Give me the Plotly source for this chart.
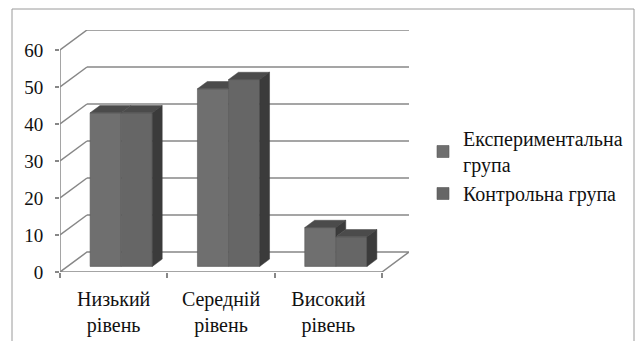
import plotly.graph_objects as go

# Survey results (% of pupils) by level, for the two groups
categories = ["Низький<br>рівень", "Середній<br>рівень", "Високий<br>рівень"]
series_names = ["Експериментальна<br>група", "Контрольна група"]
experimental = [41.5, 48, 10.5]
control = [41.5, 50.5, 8]
y_ticks = [0, 10, 20, 30, 40, 50, 60]

# Figure geometry (pixels)
W, H = 635, 341
ML, MR, MT, MB = 60, 226, 30, 69
plot_w = W - ML - MR
plot_h = H - MT - MB

# Pseudo-3D depth of the chart box, in axis units
DEPTH_X = 0.2516
DEPTH_Y = 5.4
BAR_FRONT = 0.28      # where the bars start inside the depth
BAR_DEPTH = 0.365     # how deep each bar is (fraction of box depth)
BAR_W = 0.29          # width of one bar in category units

x_min, x_max = -0.5, len(categories) - 0.5
y_top = max(y_ticks)

GRID = "#878787"
FONT = "Liberation Serif, Times New Roman, serif"
FRONT_COLORS = ["#6f6f6f", "#666666"]
TOP_COLOR = "#4b4b4b"
SIDE_COLOR = "#3b3b3b"

fig = go.Figure()

base = BAR_FRONT * DEPTH_Y
shift_x = BAR_FRONT * DEPTH_X
bx = BAR_DEPTH * DEPTH_X
by = BAR_DEPTH * DEPTH_Y
xpos = [i + shift_x for i in range(len(categories))]

# Front faces of the columns
for k, vals in enumerate([experimental, control]):
    fig.add_trace(go.Bar(
        x=xpos, y=vals, base=base, width=BAR_W,
        offset=-BAR_W if k == 0 else 0,
        name=series_names[k], legendgroup=f"g{k}",
        marker=dict(color=FRONT_COLORS[k], line=dict(width=0.6, color="#575757")),
        hoverinfo="skip",
    ))


def face(pts, color):
    xs = [p[0] for p in pts] + [pts[0][0]]
    ys = [p[1] for p in pts] + [pts[0][1]]
    fig.add_trace(go.Scatter(
        x=xs, y=ys, mode="lines", fill="toself", fillcolor=color,
        line=dict(width=0.5, color=color), hoverinfo="skip", showlegend=False,
    ))


# Top and side faces, drawn back (left series) to front (right series)
for i, cx in enumerate(xpos):
    v1, v2 = experimental[i], control[i]
    x0, x1 = cx - BAR_W, cx
    t1, t2 = base + v1, base + v2
    if v1 >= v2:
        face([(x0, t1), (x1, t1), (x1 + bx, t1 + by), (x0 + bx, t1 + by)], TOP_COLOR)
        if v1 > v2:
            face([(x1, t2), (x1 + bx, t2 + by), (x1 + bx, t1 + by), (x1, t1)], SIDE_COLOR)
    else:
        face([(x0, t1), (x1, t1), (x1, t1 + by), (x0 + bx, t1 + by)], TOP_COLOR)
for i, cx in enumerate(xpos):
    v2 = control[i]
    x1, x2 = cx, cx + BAR_W
    t2 = base + v2
    face([(x1, t2), (x2, t2), (x2 + bx, t2 + by), (x1 + bx, t2 + by)], TOP_COLOR)
    face([(x2, base), (x2 + bx, base + by), (x2 + bx, t2 + by), (x2, t2)], SIDE_COLOR)

shapes = []
line = dict(color=GRID, width=1.5)
# Floor
shapes.append(dict(
    type="path", xref="x", yref="y", layer="below", line=line,
    path=f"M{x_min},0 L{x_max},0 L{x_max + DEPTH_X},{DEPTH_Y} L{x_min + DEPTH_X},{DEPTH_Y} Z",
))
# Wall gridlines: diagonal on the side wall, horizontal on the back wall
for v in y_ticks[1:]:
    shapes.append(dict(type="line", xref="x", yref="y", layer="below", line=line,
                       x0=x_min, y0=v, x1=x_min + DEPTH_X, y1=v + DEPTH_Y))
    shapes.append(dict(type="line", xref="x", yref="y", layer="below", line=line,
                       x0=x_min + DEPTH_X, y0=v + DEPTH_Y, x1=x_max + DEPTH_X, y1=v + DEPTH_Y))
# Front value axis line
shapes.append(dict(type="line", xref="x", yref="y", layer="below", line=line,
                   x0=x_min, y0=0, x1=x_min, y1=y_top))


def px_to_paper(px, py):
    return (px - ML) / plot_w, (H - MB - py) / plot_h


# Outer chart frame
fx0, fy0 = px_to_paper(12, 9)
fx1, fy1 = px_to_paper(634, 350)
shapes.append(dict(type="rect", xref="paper", yref="paper", x0=fx0, y0=fy1, x1=fx1, y1=fy0,
                   line=dict(color="#9a9a9a", width=1)))

fig.update_layout(
    width=W, height=H, autosize=False,
    margin=dict(l=ML, r=MR, t=MT, b=MB, pad=0, autoexpand=False),
    paper_bgcolor="white", plot_bgcolor="white",
    barmode="overlay",
    shapes=shapes,
    font=dict(family=FONT, size=20, color="#111111"),
    xaxis=dict(
        range=[x_min, x_max + DEPTH_X], showgrid=False, zeroline=False, showline=False,
        tickmode="array", tickvals=list(range(len(categories))), ticktext=categories,
        ticks="", tickfont=dict(family=FONT, size=20), ticklabelstandoff=13,
        minor=dict(tickmode="array", tickvals=[x_min + k for k in range(len(categories) + 1)],
                   ticks="outside", ticklen=5, tickcolor=GRID, tickwidth=1.5, showgrid=False),
        fixedrange=True, automargin=False,
    ),
    yaxis=dict(
        range=[0, y_top + DEPTH_Y], showgrid=False, zeroline=False, showline=False,
        tickmode="array", tickvals=y_ticks, ticks="outside", ticklen=4,
        tickcolor=GRID, tickwidth=1.5, tickfont=dict(family=FONT, size=19),
        ticklabelstandoff=8, fixedrange=True, automargin=False,
    ),
    legend=dict(
        xref="container", yref="container", x=423 / W, y=1 - 119 / H,
        xanchor="left", yanchor="top",
        font=dict(family=FONT, size=20), bgcolor="rgba(0,0,0,0)",
        itemclick=False, itemdoubleclick=False, tracegroupgap=0,
    ),
    showlegend=True,
)

fig.write_html("out.html")
